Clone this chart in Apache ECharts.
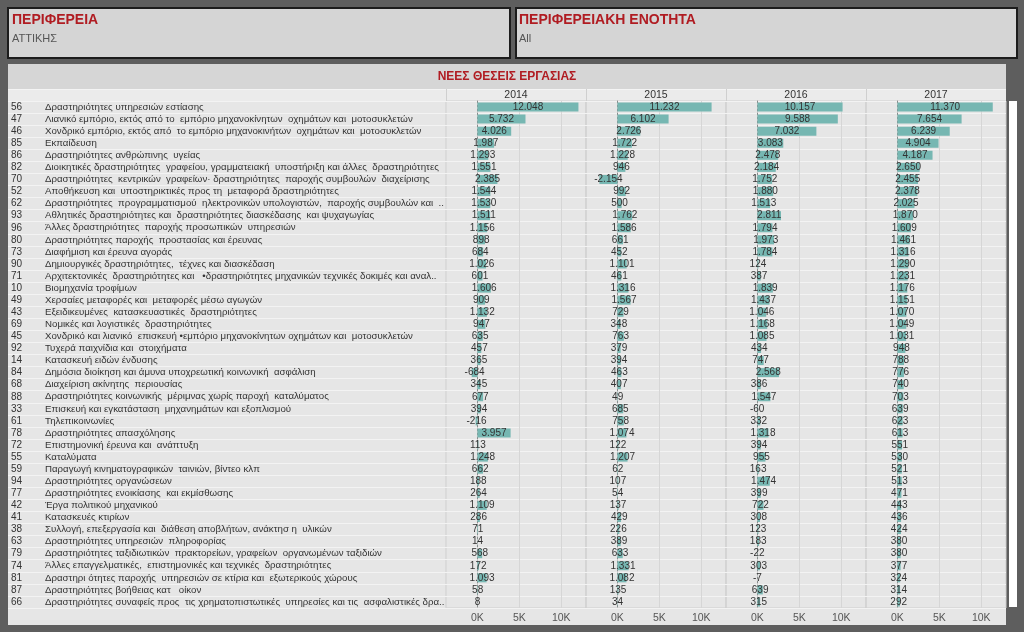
<!DOCTYPE html>
<html><head><meta charset="utf-8">
<script src="https://cdn.jsdelivr.net/npm/echarts@6/dist/echarts.min.js"></script>
<style>html,body{margin:0;padding:0;background:#5e5e5e;}#c{width:1024px;height:632px;}</style>
</head><body><div id="c"></div>
<script>
const years = ['2014','2015','2016','2017'];
const codes = ['56','47','46','85','86','82','70','52','62','93','96','80','73','90','71','10','49','43','69','45','92','14','84','68','88','33','61','78','72','55','59','94','77','42','41','38','63','79','74','81','87','66'];
const names = [
'Δραστηριότητες υπηρεσιών εστίασης',
'Λιανικό εμπόριο, εκτός από το  εμπόριο μηχανοκίνητων  οχημάτων και  μοτοσυκλετών',
'Χονδρικό εμπόριο, εκτός από  το εμπόριο μηχανοκινήτων  οχημάτων και  μοτοσυκλετών',
'Εκπαίδευση',
'Δραστηριότητες ανθρώπινης  υγείας',
'Διοικητικές δραστηριότητες  γραφείου, γραμματειακή  υποστήριξη και άλλες  δραστηριότητες',
'Δραστηριότητες  κεντρικών  γραφείων· δραστηριότητες  παροχής συμβουλών  διαχείρισης',
'Αποθήκευση και  υποστηρικτικές προς τη  μεταφορά δραστηριότητες',
'Δραστηριότητες  προγραμματισμού  ηλεκτρονικών υπολογιστών,  παροχής συμβουλών και  ..',
'Αθλητικές δραστηριότητες και  δραστηριότητες διασκέδασης  και ψυχαγωγίας',
'Άλλες δραστηριότητες  παροχής προσωπικών  υπηρεσιών',
'Δραστηριότητες παροχής  προστασίας και έρευνας',
'Διαφήμιση και έρευνα αγοράς',
'Δημιουργικές δραστηριότητες,  τέχνες και διασκέδαση',
'Αρχιτεκτονικές  δραστηριότητες και   •δραστηριότητες μηχανικών τεχνικές δοκιμές και αναλ..',
'Βιομηχανία τροφίμων',
'Χερσαίες μεταφορές και  μεταφορές μέσω αγωγών',
'Εξειδικευμένες  κατασκευαστικές  δραστηριότητες',
'Νομικές και λογιστικές  δραστηριότητες',
'Χονδρικό και λιανικό  επισκευή •εμπόριο μηχανοκίνητων οχημάτων και  μοτοσυκλετών',
'Τυχερά παιχνίδια και  στοιχήματα',
'Κατασκευή ειδών ένδυσης',
'Δημόσια διοίκηση και άμυνα υποχρεωτική κοινωνική  ασφάλιση',
'Διαχείριση ακίνητης  περιουσίας',
'Δραστηριότητες κοινωνικής  μέριμνας χωρίς παροχή  καταλύματος',
'Επισκευή και εγκατάσταση  μηχανημάτων και εξοπλισμού',
'Τηλεπικοινωνίες',
'Δραστηριότητες απασχόλησης',
'Επιστημονική έρευνα και  ανάπτυξη',
'Καταλύματα',
'Παραγωγή κινηματογραφικών  ταινιών, βίντεο κλπ',
'Δραστηριότητες οργανώσεων',
'Δραστηριότητες ενοικίασης  και εκμίσθωσης',
'Έργα πολιτικού μηχανικού',
'Κατασκευές κτιρίων',
'Συλλογή, επεξεργασία και  διάθεση αποβλήτων, ανάκτησ η  υλικών',
'Δραστηριότητες υπηρεσιών  πληροφορίας',
'Δραστηριότητες ταξιδιωτικών  πρακτορείων, γραφείων  οργανωμένων ταξιδιών',
'Άλλες επαγγελματικές,  επιστημονικές και τεχνικές  δραστηριότητες',
'Δραστηρι ότητες παροχής  υπηρεσιών σε κτίρια και  εξωτερικούς χώρους',
'Δραστηριότητες βοήθειας κατ   οίκον',
'Δραστηριότητες συναφείς προς  τις χρηματοπιστωτικές  υπηρεσίες και τις  ασφαλιστικές δρα..'
];
const v2014 = [12048,5732,4026,1987,1293,1551,2385,1544,1530,1511,1156,898,684,1026,601,1606,909,1132,947,635,457,365,-684,345,677,394,-216,3957,113,1248,662,188,264,1109,286,71,14,568,172,1093,58,8];
const v2015 = [11232,6102,2726,1722,1228,946,-2154,992,500,1762,1586,661,452,1101,461,1316,1567,729,348,763,379,394,463,407,49,685,758,1074,122,1207,62,107,54,137,429,226,389,633,1331,1082,135,34];
const v2016 = [10157,9588,7032,3083,2478,2184,1752,1880,1513,2811,1794,1973,1784,124,387,1839,1437,1046,1168,1085,434,747,2568,386,1547,-60,332,1318,394,955,163,1474,399,722,308,123,183,-22,303,-7,639,315];
const v2017 = [11370,7654,6239,4904,4187,2650,2455,2378,2025,1870,1609,1461,1316,1290,1231,1176,1151,1070,1049,1031,948,788,776,740,703,639,623,613,551,530,521,513,471,443,436,424,380,380,377,324,314,292];
const axisTickLabels = {0:'0K',5000:'5K',10000:'10K'};

const seriesValues = [v2014, v2015, v2016, v2017];
const FONT = "'Liberation Sans Narrow','Liberation Sans',sans-serif";
const TOP = 101, H = 507, PW = 140, P0 = 446;

function fmt(v){
  const s = Math.abs(v).toString().replace(/\B(?=(\d{3})+(?!\d))/g,'.');
  return (v<0?'-':'')+s;
}

const chart = echarts.init(document.getElementById('c'));
const grids = [{left:8, top:TOP, width:P0-8, height:H, show:false}];
const xAxes = [{gridIndex:0, type:'value', show:false, min:0, max:1}];
const yAxes = [{gridIndex:0, type:'category', inverse:true, data:names,
  axisLine:{show:false}, axisTick:{show:false},
  splitLine:{show:true, interval:0, lineStyle:{color:'#f3f3f3', width:1}},
  axisLabel:{inside:true, margin:3, interval:0, align:'left',
    formatter:(val, idx)=>'{c|'+codes[idx]+'}{n|'+val+'}',
    rich:{c:{width:34, fontSize:10, fontFamily:FONT, color:'#333'}, n:{fontSize:9.7, fontFamily:FONT, color:'#333'}}}
}];
const series = [];
const splitColors = ['transparent','transparent','transparent','transparent','transparent','transparent','transparent','#d6d6d6','transparent','transparent','transparent','#d6d6d6'];
years.forEach((y,i)=>{
  const gi = i+1;
  grids.push({left:P0+PW*i, top:TOP, width:PW, height:H, show:true, borderColor:'#cfcfcf', borderWidth:1, backgroundColor:'transparent'});
  xAxes.push({gridIndex:gi, type:'value', min:-3750, max:12950, interval:1250,
    axisLine:{show:false}, axisTick:{show:false},
    splitLine:{show:true, lineStyle:{color:splitColors, width:1}},
    axisLabel:{margin:5, fontSize:10.5, fontFamily:FONT, color:'#555', showMinLabel:true, showMaxLabel:false,
      formatter:v=> axisTickLabels[v] || ''}});
  yAxes.push({gridIndex:gi, type:'category', inverse:true, data:names,
    axisLabel:{show:false}, axisTick:{show:false},
    axisLine:{show:true, onZero:true, lineStyle:{color:'#8a8a8a', type:[2,2], width:1}},
    splitLine:{show:true, interval:0, lineStyle:{color:'#f3f3f3', width:1}}});
  series.push({type:'bar', xAxisIndex:gi, yAxisIndex:gi, data:seriesValues[i], barWidth:9,
    itemStyle:{color:'#76b7b2'}, z:3,
    label:{show:true, position:'inside', formatter:p=>fmt(p.value), fontSize:10, fontFamily:FONT, color:'#333'},
    emphasis:{disabled:true}});
});

const graphics = [
  {type:'rect', shape:{x:8,y:8,width:502,height:50}, style:{fill:'#d5d5d5', stroke:'#1c1c1c', lineWidth:2}, z:-10},
  {type:'rect', shape:{x:516,y:8,width:501,height:50}, style:{fill:'#d5d5d5', stroke:'#1c1c1c', lineWidth:2}, z:-10},
  {type:'text', x:12, y:13, style:{text:'ΠΕΡΙΦΕΡΕΙΑ', font:"bold 14px "+FONT, fill:'#b01c22'}},
  {type:'text', x:12, y:33, style:{text:'ΑΤΤΙΚΗΣ', font:"11px "+FONT, fill:'#555'}},
  {type:'text', x:519, y:13, style:{text:'ΠΕΡΙΦΕΡΕΙΑΚΗ ΕΝΟΤΗΤΑ', font:"bold 14px "+FONT, fill:'#b01c22'}},
  {type:'text', x:519, y:33, style:{text:'All', font:"11px "+FONT, fill:'#555'}},
  {type:'rect', shape:{x:8,y:64,width:998,height:561}, style:{fill:'#e6e6e6'}, z:-10},
  {type:'rect', shape:{x:8,y:64,width:998,height:25}, style:{fill:'#d6d6d6'}, z:-9},
  {type:'rect', shape:{x:8,y:89,width:998,height:1}, style:{fill:'#f4f4f4'}, z:-9},
  {type:'rect', shape:{x:8,y:90,width:998,height:11}, style:{fill:'#ebebeb'}, z:-9},
  {type:'text', x:507, y:71, style:{text:'ΝΕΕΣ ΘΕΣΕΙΣ ΕΡΓΑΣΙΑΣ', font:"bold 12px "+FONT, fill:'#b01c22', textAlign:'center'}},
  {type:'rect', shape:{x:1009,y:101,width:8,height:506}, style:{fill:'#ffffff'}, z:-9}
];
years.forEach((y,i)=>{
  graphics.push({type:'rect', shape:{x:P0+PW*i, y:89, width:1, height:12}, style:{fill:'#cfcfcf'}, z:-8});
  graphics.push({type:'text', x:P0+PW*i+PW/2, y:90, style:{text:y, font:"10.5px "+FONT, fill:'#333', textAlign:'center'}});
});

chart.setOption({
  animation:false,
  backgroundColor:'#5e5e5e',
  grid:grids, xAxis:xAxes, yAxis:yAxes, series:series, graphic:graphics
});
</script></body></html>
